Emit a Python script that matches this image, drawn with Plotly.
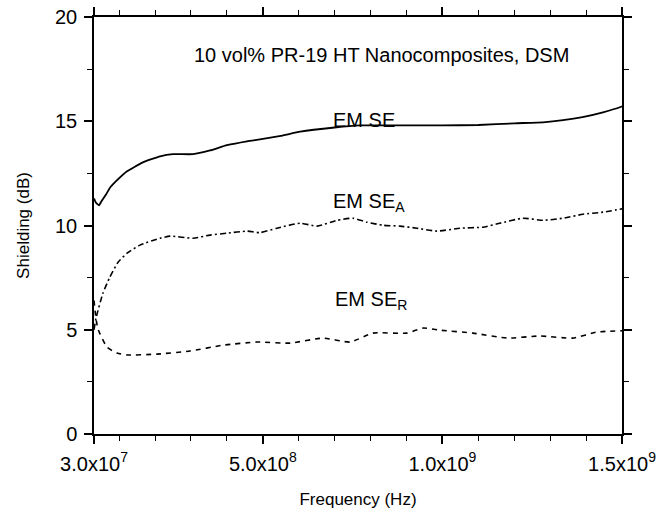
import plotly.graph_objects as go

# ---- data ----
freq_se = [3.0e7, 3.5e7, 4.4e7, 5.2e7, 6.4e7, 7.4e7, 9.0e7, 1.22e8, 1.66e8, 2.14e8, 2.5e8, 3.06e8,
           3.53e8, 4.0e8, 4.56e8, 4.92e8, 5.5e8, 6.04e8, 7.0e8, 7.7e8, 9.0e8, 1.0e9, 1.1e9,
           1.2e9, 1.28e9, 1.336e9, 1.39e9, 1.447e9, 1.494e9, 1.5e9]
se_total = [11.3, 11.1, 10.97, 11.2, 11.5, 11.8, 12.1, 12.6, 13.03, 13.32, 13.42, 13.42,
            13.6, 13.85, 14.04, 14.13, 14.3, 14.5, 14.7, 14.8, 14.8, 14.8, 14.82,
            14.9, 14.95, 15.05, 15.2, 15.43, 15.67, 15.72]

freq_a = [3.0e7, 3.56e7, 5.5e7, 7.4e7, 9.7e7, 1.22e8, 1.58e8, 2.14e8, 2.42e8, 3.06e8, 3.53e8,
          4.0e8, 4.56e8, 4.92e8, 5.39e8, 6.04e8, 6.51e8, 7.07e8, 7.51e8, 7.9e8, 8.35e8, 8.82e8,
          9.29e8, 9.85e8, 1.049e9, 1.113e9, 1.16e9, 1.224e9, 1.28e9, 1.336e9, 1.391e9,
          1.447e9, 1.5e9]
se_a = [5.0, 5.56, 6.76, 7.52, 8.24, 8.67, 9.06, 9.39, 9.49, 9.39, 9.54,
        9.63, 9.73, 9.66, 9.87, 10.11, 9.97, 10.25, 10.35, 10.16, 10.01, 9.97,
        9.87, 9.73, 9.87, 9.92, 10.11, 10.35, 10.25, 10.35, 10.54,
        10.64, 10.8]

freq_r = [3.0e7, 3.5e7, 4.0e7, 4.67e7, 6.6e7, 9.4e7, 1.22e8, 2.05e8, 2.97e8, 3.89e8, 4.84e8,
          5.76e8, 6.68e8, 7.43e8, 8.07e8, 9.01e8, 9.46e8, 9.93e8, 1.085e9, 1.18e9, 1.272e9,
          1.363e9, 1.43e9, 1.5e9]
se_r = [6.4, 5.6, 5.1, 4.8, 4.17, 3.88, 3.79, 3.83, 3.98, 4.26, 4.41,
        4.36, 4.6, 4.41, 4.84, 4.84, 5.08, 4.98, 4.84, 4.6, 4.7,
        4.6, 4.89, 4.95]

x_tickvals = [3.0e7, 5.0e8, 1.0e9, 1.5e9]
x_ticktext = ["3.0x10<sup>7</sup>", "5.0x10<sup>8</sup>", "1.0x10<sup>9</sup>", "1.5x10<sup>9</sup>"]
y_tickvals = [0, 5, 10, 15, 20]

FONT = "Arial, Liberation Sans, sans-serif"

fig = go.Figure()
fig.add_trace(go.Scatter(x=freq_se, y=se_total, mode="lines", name="EM SE",
                         line=dict(color="black", width=1.8, shape="spline", smoothing=0.4)))
fig.add_trace(go.Scatter(x=freq_a, y=se_a, mode="lines", name="EM SE_A",
                         line=dict(color="black", width=1.6, dash="6px,3px,2px,3px",
                                   shape="spline", smoothing=0.5)))
fig.add_trace(go.Scatter(x=freq_r, y=se_r, mode="lines", name="EM SE_R",
                         line=dict(color="black", width=1.6, dash="5px,5px",
                                   shape="spline", smoothing=0.5)))

axis_common = dict(showline=True, linecolor="black", linewidth=1.5, mirror="allticks",
                   ticks="outside", tickcolor="black", tickwidth=1.5, ticklen=8,
                   showgrid=False, zeroline=False, ticklabelstandoff=3, automargin=False,
                   tickfont=dict(family=FONT, size=20, color="black"))

fig.update_xaxes(range=[3.0e7, 1.5e9], tickmode="array", tickvals=x_tickvals, ticktext=x_ticktext,
                 minor=dict(tickmode="linear", tick0=0, dtick=1e8, ticks="outside", ticklen=5,
                            tickwidth=1.2, tickcolor="black"),
                 title=dict(text="Frequency (Hz)", font=dict(family=FONT, size=17, color="black"),
                            standoff=19),
                 **axis_common)
fig.update_yaxes(range=[0, 20], tickmode="array", tickvals=y_tickvals,
                 minor=dict(tickmode="linear", tick0=0, dtick=2.5, ticks="outside", ticklen=5,
                            tickwidth=1.2, tickcolor="black"),
                 title=dict(text="Shielding (dB)", font=dict(family=FONT, size=17, color="black"),
                            standoff=21),
                 **axis_common)

ann_font = dict(family=FONT, size=20, color="black")
fig.add_annotation(x=0.545, y=0.94, xref="paper", yref="paper", showarrow=False,
                   text="10 vol% PR-19 HT Nanocomposites, DSM", font=ann_font)
fig.add_annotation(x=0.512, y=0.785, xref="paper", yref="paper", showarrow=False,
                   text="EM SE", font=ann_font)
fig.add_annotation(x=0.52, y=0.555, xref="paper", yref="paper", showarrow=False,
                   text="EM SE<sub>A</sub>", font=ann_font)
fig.add_annotation(x=0.525, y=0.285, xref="paper", yref="paper", showarrow=False,
                   text="EM SE<sub>R</sub>", font=ann_font)

fig.update_layout(width=657, height=512, margin=dict(l=94, r=35, t=17, b=78),
                  paper_bgcolor="white", plot_bgcolor="white", showlegend=False,
                  font=dict(family=FONT, color="black"))

fig.write_html("out.html")
